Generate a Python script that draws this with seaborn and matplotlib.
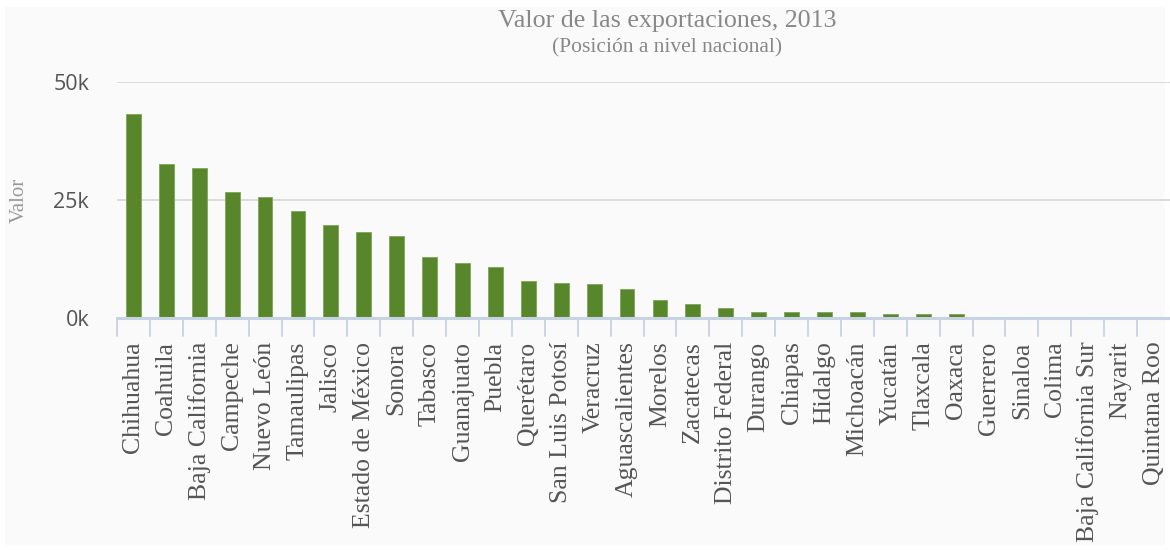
import pandas as pd
import matplotlib
matplotlib.use("Agg")
import matplotlib.pyplot as plt
import seaborn as sns
from matplotlib.patches import Rectangle
from matplotlib.ticker import FuncFormatter

# === DATA ===
estados = [
    "Chihuahua", "Coahuila", "Baja California", "Campeche", "Nuevo León",
    "Tamaulipas", "Jalisco", "Estado de México", "Sonora", "Tabasco",
    "Guanajuato", "Puebla", "Querétaro", "San Luis Potosí", "Veracruz",
    "Aguascalientes", "Morelos", "Zacatecas", "Distrito Federal", "Durango",
    "Chiapas", "Hidalgo", "Michoacán", "Yucatán", "Tlaxcala", "Oaxaca",
    "Guerrero", "Sinaloa", "Colima", "Baja California Sur", "Nayarit",
    "Quintana Roo",
]
valores = [
    43200, 32600, 31700, 26800, 25600,
    22700, 19800, 18200, 17400, 12900,
    11600, 10800, 7800, 7500, 7100,
    6200, 3800, 2900, 2100, 1300,
    1300, 1300, 1300, 900, 900, 900,
    150, 120, 100, 40, 30,
    20,
]
y_ticks = [0, 25000, 50000]

df = pd.DataFrame({"estado": estados, "valor": valores})

# === STYLE ===
sns.set_theme(style="white")
plt.rcParams["font.family"] = ["Liberation Serif", "DejaVu Serif"]

W, H = 1170, 550
fig = plt.figure(figsize=(W / 100, H / 100), dpi=100)
fig.patch.set_facecolor("white")
fig.patches.append(Rectangle((5 / W, 5 / H), 1160 / W, 538 / H,
                             transform=fig.transFigure, facecolor="#fafafa",
                             edgecolor="none", zorder=-10))

ax = fig.add_axes([117 / W, 1 - 318 / H, (W - 117) / W, (318 - 82) / H])
ax.set_facecolor("none")

sns.barplot(data=df, x="estado", y="valor", color="#58862b", width=0.45,
            saturation=1, edgecolor="#7fa55a", linewidth=0.6, ax=ax, zorder=3)

ax.set_ylim(0, 50000)
ax.set_xlim(-0.5, len(estados) - 0.5)
ax.set_yticks(y_ticks)
ax.yaxis.set_major_formatter(FuncFormatter(lambda v, p: f"{int(v / 1000)}k"))
for t in ax.get_yticklabels():
    t.set_family(["Open Sans", "DejaVu Sans"])
    t.set_fontsize(15.5)
    t.set_color("#555555")
ax.tick_params(axis="y", length=0, pad=20)

for yv in y_ticks[1:]:
    ax.axhline(yv, color="#d8d8d8", linewidth=1.3, zorder=1)
ax.axhline(0, color="#c5d3e2", linewidth=2.2, zorder=4, clip_on=False)

# category separator ticks below the axis
ax.set_xticks(range(len(estados)))
ax.set_xticklabels(estados, rotation=90, fontsize=18.5, color="#555555")
ax.tick_params(axis="x", length=0, pad=17)
for i in range(len(estados)):
    ax.plot([i - 0.5, i - 0.5], [0, -0.075], color="#c5d3e2", linewidth=1.3,
            transform=ax.get_xaxis_transform(), clip_on=False)

for s in ax.spines.values():
    s.set_visible(False)

ax.set_xlabel("")
ax.set_ylabel("")
fig.text(19 / W, 1 - 200 / H, "Valor", rotation=90, ha="center", va="center",
         fontsize=15, color="#999999")

cx = 667 / W
fig.text(cx, 1 - 21 / H, "Valor de las exportaciones, 2013",
         ha="center", va="center", fontsize=18.7, color="#888888")
fig.text(cx, 1 - 48 / H, "(Posición a nivel nacional)",
         ha="center", va="center", fontsize=15.5, color="#888888")

fig.savefig("out.png", dpi=100, facecolor=fig.get_facecolor())
plt.close(fig)
